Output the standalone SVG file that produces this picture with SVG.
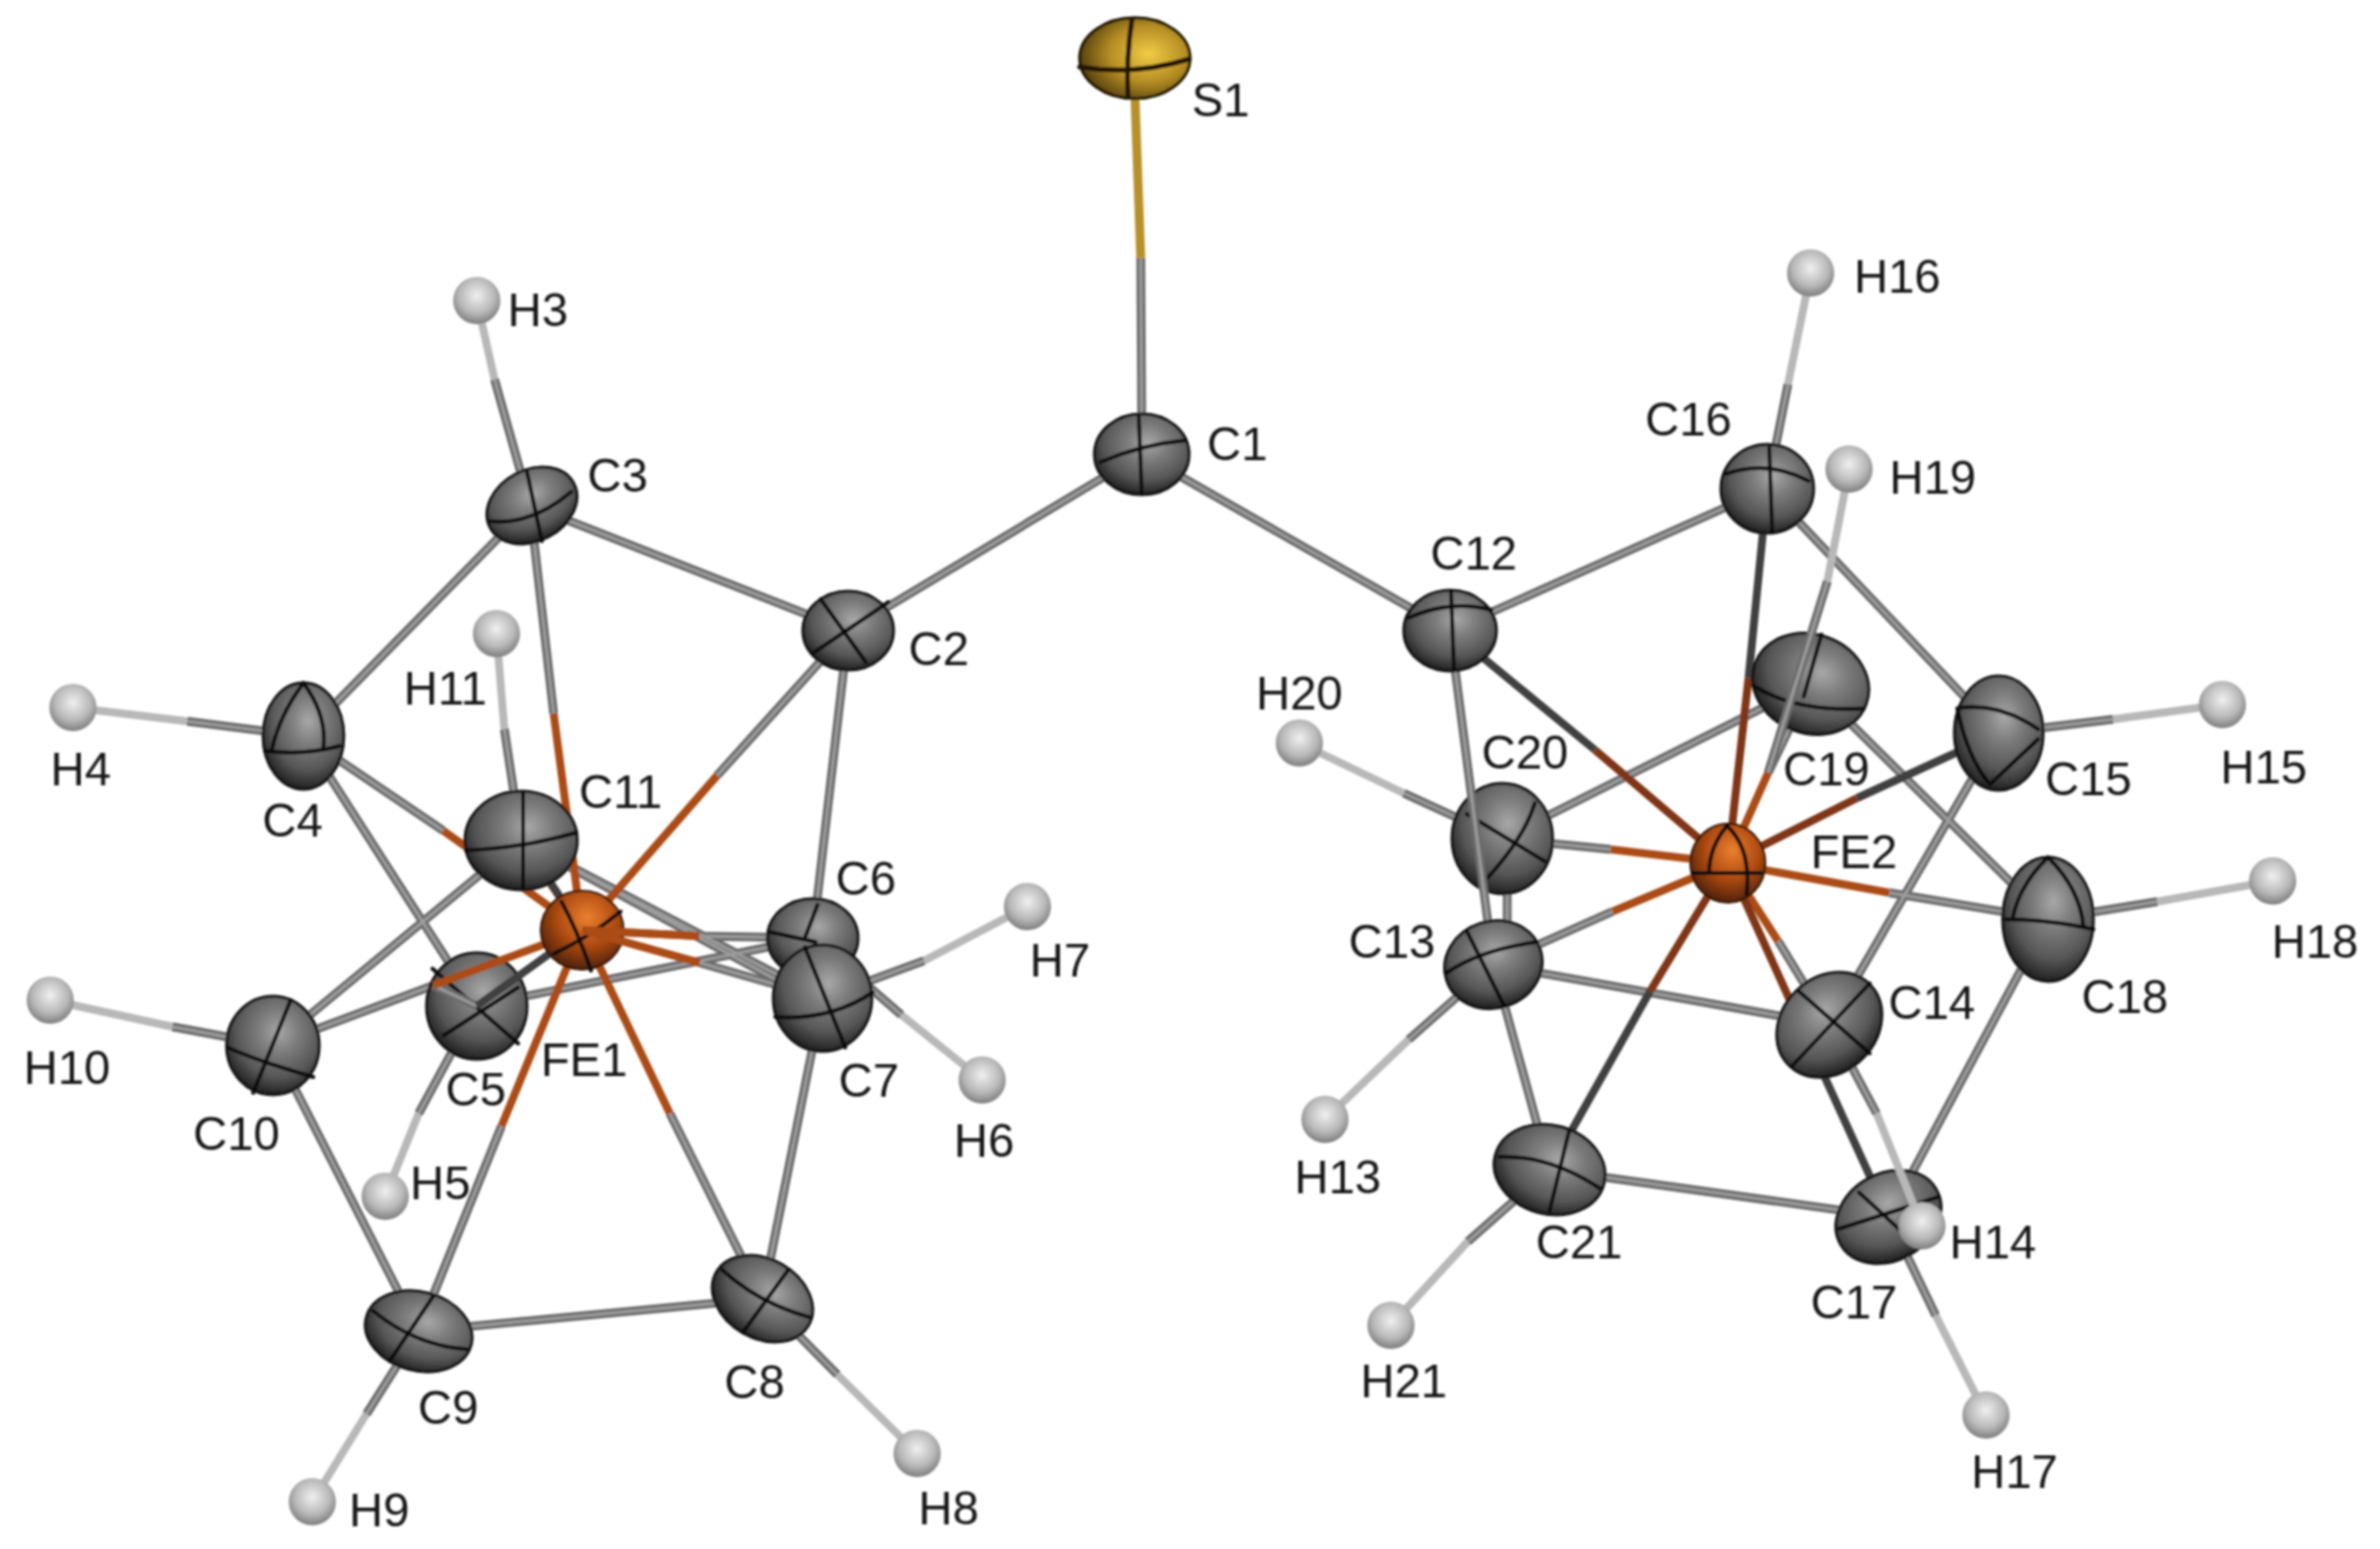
<svg xmlns="http://www.w3.org/2000/svg" width="2416" height="1572" viewBox="0 0 2416 1572">
<style>
text{font-family:"Liberation Sans",Arial,sans-serif;font-size:48px;fill:#141414;text-anchor:middle}
path{fill:none}
.g{stroke:#6c6c6c;stroke-width:9}
.hl{stroke:#9c9c9c;stroke-width:3}
.o{stroke:#ab4b17;stroke-width:8}
.dk{stroke:#404040;stroke-width:8}
.do{stroke:#7f3616;stroke-width:8}
.l{stroke:#b8b8b8;stroke-width:8}
.au{stroke:#b8902a;stroke-width:9}
.c{fill:url(#gc);stroke:#141414;stroke-width:3}
.h{fill:url(#gh)}
.fe{fill:url(#gfe);stroke:#2a1204;stroke-width:2}
.s{fill:url(#gs);stroke:#1e1604;stroke-width:3}
.x{stroke:#0e0e0e;stroke-width:4;stroke-linecap:round}
.xs{stroke:#241804;stroke-width:5;stroke-linecap:round}
</style>
<defs>
<radialGradient id="gc" cx=".56" cy=".36" r=".66"><stop offset="0" stop-color="#a8a8a8"/><stop offset=".33" stop-color="#7c7c7c"/><stop offset=".7" stop-color="#565656"/><stop offset="1" stop-color="#1c1c1c"/></radialGradient>
<radialGradient id="gh" cx=".5" cy=".4" r=".62"><stop offset="0" stop-color="#f0f0f0"/><stop offset=".6" stop-color="#b8b8b8"/><stop offset="1" stop-color="#787878"/></radialGradient>
<radialGradient id="gfe" cx=".56" cy=".34" r=".7"><stop offset="0" stop-color="#ea8030"/><stop offset=".5" stop-color="#b04c12"/><stop offset="1" stop-color="#451c06"/></radialGradient>
<radialGradient id="gs" cx=".62" cy=".45" r=".7"><stop offset="0" stop-color="#f2cc46"/><stop offset=".5" stop-color="#b48c24"/><stop offset="1" stop-color="#3c2c06"/></radialGradient>
<filter id="soft" filterUnits="userSpaceOnUse" x="0" y="0" width="2416" height="1572"><feGaussianBlur stdDeviation="0.9"/></filter>
</defs>
<rect width="2416" height="1572" fill="#fff"/>
<g filter="url(#soft)">
<g id="connectors-back">
<path class="au" d="M1152,95 L1158,262"/>
<path class="l" d="M484,305 L502,385 M74,718 L190,732 M51,1015 L175,1042 M1043,920 L938,975 M997,1096 L915,1030 M391,1214 L425,1130 M931,1475 L850,1395 M317,1524 L372,1435 M504,643 L512,740 M1838,277 L1815,390 M2256,715 L2145,730 M2307,894 L2190,915 M1319,754 L1425,805 M1345,1136 L1430,1055 M1412,1345 L1490,1260 M2016,1436 L1965,1335"/>
<g class="g">
<path id="gb" d="M1158,262 L1159,430 M861,640 L1159,461 M1159,461 L1472,640 M861,640 L538,513 M538,513 L308,747 M861,640 L825,952 M502,385 L538,513 M190,732 L308,747 M175,1042 L277,1061 M938,975 L835,1013 M915,1030 L825,952 M425,1130 L484,1021 M850,1395 L774,1318 M372,1435 L425,1351 M512,740 L529,853 M308,747 L484,1021 M277,1061 L529,853 M277,1061 L425,1351 M425,1351 L774,1318 M774,1318 L835,1013 M484,1021 L825,952 M529,853 L835,1020 M529,853 L825,1008 M861,640 L728,787 M538,513 L562,724 M308,747 L450,843 M425,1351 L509,1143 M774,1318 L680,1130 M825,952 L710,950 M835,1013 L710,977 M277,1061 L440,1000 M1472,640 L1794,496 M1794,496 L2029,744 M1838,694 L2079,933 M2079,933 L1917,1235 M2029,744 L1857,1040 M1516,979 L1857,1040 M1516,979 L1573,1187 M1573,1187 L1917,1235 M1838,694 L1525,851 M1815,390 L1794,496 M2145,730 L2029,744 M2190,915 L2079,933 M1425,805 L1525,851 M1430,1055 L1516,979 M1490,1260 L1573,1187 M1965,1335 L1917,1235 M2079,933 L1918,906 M1525,851 L1635,862 M1516,979 L1637,925 M1838,694 L1795,784 M1857,1040 L1805,955 M1530,851 L1530,979"/>
<use href="#gb" class="hl"/>
</g>
<path class="dk" d="M1472,640 L1619,761 M1794,496 L1775,688 M1573,1187 L1675,1006 M1835,1055 L1917,1235 M2029,744 L1885,810"/>
<path class="o" d="M728,787 L591,944 M562,724 L591,944 M450,843 L591,944 M509,1143 L591,944 M680,1130 L591,944 M710,950 L591,944 M710,977 L591,944 M529,853 L591,944 M1918,906 L1754,876 M1635,862 L1754,876 M1637,925 L1754,876 M1795,784 L1754,876 M1805,955 L1754,876"/>
<path class="do" d="M1619,761 L1754,876 M1775,688 L1754,876 M1675,1006 L1754,876 M1835,1055 L1754,876 M1885,810 L1754,876"/>
</g>
<g id="nodes-back">
<g id="C6"><g transform="translate(825,952)"><ellipse class="c" rx="46" ry="40"/><path class="x" d="M-43,-6 L3,4 M5,-34 L-8,0"/></g><text x="879" y="908">C6</text></g>
<g id="C5"><g transform="translate(484,1021)"><ellipse class="c" rx="51" ry="54"/><path class="x" d="M-45,-38 L42,38 M42,-19 L-34,30"/></g><text x="483" y="1122">C5</text></g>
<g id="C17"><g transform="translate(1917,1235)"><ellipse class="c" rx="56" ry="44" transform="rotate(-30)"/><path class="x" d="M-30,-25 L30,30 M-50,12 Q0,-4 50,-20"/></g><text x="1882" y="1338">C17</text></g>
<g id="C19"><g transform="translate(1838,694) rotate(20)"><ellipse class="c" rx="60" ry="50"/></g><path class="x" d="M1849,644 L1831,707 M1780,696 Q1824,723 1892,719"/><text x="1854" y="797">C19</text></g>
<g id="C20"><g transform="translate(1525,851)"><ellipse class="c" rx="51" ry="56"/><path class="x" d="M-36,-25 L43,23 M33,-36 Q23,-2 -15,40"/></g><text x="1548" y="780">C20</text></g>
<g id="H3"><circle class="h" cx="484" cy="305" r="24"/><text x="546" y="331">H3</text></g>
<g id="H4"><circle class="h" cx="74" cy="718" r="24"/><text x="82" y="797">H4</text></g>
<g id="H10"><circle class="h" cx="51" cy="1015" r="24"/><text x="68" y="1100">H10</text></g>
<g id="H11"><circle class="h" cx="504" cy="643" r="24"/><text x="452" y="715">H11</text></g>
<g id="H5"><circle class="h" cx="391" cy="1214" r="24"/><text x="447" y="1217">H5</text></g>
<g id="H6"><circle class="h" cx="997" cy="1096" r="24"/><text x="999" y="1174">H6</text></g>
<g id="H7"><circle class="h" cx="1043" cy="920" r="24"/><text x="1076" y="991">H7</text></g>
<g id="H8"><circle class="h" cx="931" cy="1475" r="24"/><text x="963" y="1547">H8</text></g>
<g id="H9"><circle class="h" cx="317" cy="1524" r="24"/><text x="385" y="1549">H9</text></g>
<g id="H13"><circle class="h" cx="1345" cy="1136" r="24"/><text x="1358" y="1211">H13</text></g>
<g id="H15"><circle class="h" cx="2256" cy="715" r="24"/><text x="2298" y="795">H15</text></g>
<g id="H16"><circle class="h" cx="1838" cy="277" r="24"/><text x="1926" y="297">H16</text></g>
<g id="H17"><circle class="h" cx="2016" cy="1436" r="24"/><text x="2045" y="1510">H17</text></g>
<g id="H18"><circle class="h" cx="2307" cy="894" r="24"/><text x="2350" y="972">H18</text></g>
<g id="H20"><circle class="h" cx="1319" cy="754" r="24"/><text x="1319" y="720">H20</text></g>
<g id="H21"><circle class="h" cx="1412" cy="1345" r="24"/><text x="1425" y="1418">H21</text></g>
</g>
<g id="connectors-front">
<path class="l" d="M1877,476 L1855,590 M1951,1244 L1905,1130"/>
<g class="g"><path id="gf" d="M1855,590 L1795,784 M1905,1130 L1857,1040 M1472,640 L1516,979 M484,1021 L440,1000"/><use href="#gf" class="hl"/></g>
<path class="dk" d="M484,1021 L591,944 M555,890 L591,944"/>
<path class="o" d="M440,1000 L591,944"/>
</g>
<g id="nodes-front">
<g id="FE1"><ellipse class="fe" cx="591" cy="944" rx="42" ry="40"/><path class="x" d="M570,915 Q586,944 600,985 M630,925 Q600,950 562,968"/><text x="593" y="1092">FE1</text></g>
<g id="C11"><g transform="translate(529,853)"><ellipse class="c" rx="57" ry="50"/><path class="x" d="M-56,10 Q0,8 56,-8 M2,-48 L2,48"/></g><text x="630" y="820">C11</text></g>
<path class="o" d="M591,944 L710,950 M591,944 L710,977"/>
<g id="C7"><g transform="translate(835,1013)"><ellipse class="c" rx="50" ry="54"/><path class="x" d="M-18,-52 L23,50 M-48,19 Q8,23 51,-6"/></g><text x="882" y="1113">C7</text></g>
<g id="C10"><g transform="translate(277,1061)"><ellipse class="c" rx="47" ry="50"/><path class="x" d="M18,-46 L-20,48 M-46,2 Q-12,17 41,32"/></g><text x="240" y="1167">C10</text></g>
<g id="C4"><g transform="translate(308,747)"><ellipse class="c" rx="41" ry="54"/><path class="x" d="M0,-54 Q-25,-20 -32,14 M0,-54 Q25,-20 20,14 M-39,15 Q0,20 37,10"/></g><text x="297" y="849">C4</text></g>
<g id="C3"><g transform="translate(540,513)"><ellipse class="c" rx="48" ry="36" transform="rotate(-28)"/><path class="x" d="M-42,16 Q0,20 40,-14 M-5,-34 L10,36"/></g><text x="627" y="499">C3</text></g>
<g id="C2"><g transform="translate(861,640)"><ellipse class="c" rx="46" ry="40"/><path class="x" d="M-28,-32 L18,32 M41,-29 L-36,23"/></g><text x="953" y="675">C2</text></g>
<g id="C1"><g transform="translate(1159,461)"><ellipse class="c" rx="48" ry="41"/><path class="x" d="M-42,8 Q0,-10 44,-14 M-3,-38 L0,40"/></g><text x="1256" y="467">C1</text></g>
<g id="C8"><g transform="translate(774,1318) rotate(30)"><ellipse class="c" rx="54" ry="40"/><path class="x" d="M-50,-5 Q0,6 52,-8 M8,-38 L0,39"/></g><text x="766" y="1419">C8</text></g>
<g id="C9"><g transform="translate(425,1351) rotate(15)"><ellipse class="c" rx="55" ry="40"/><path class="x" d="M-50,-8 Q0,15 52,5 M5,-38 L-20,35"/></g><text x="455" y="1445">C9</text></g>
<g id="S1"><g transform="translate(1152,59)"><ellipse class="s" rx="56" ry="41"/><path class="xs" d="M-56,9 Q0,18 55,1 M-3,-39 Q-9,0 -7,39"/></g><text x="1239" y="118">S1</text></g>
<g id="FE2"><ellipse class="fe" cx="1754" cy="876" rx="38" ry="40"/><path class="x" d="M1719,886 L1788,886 M1753,838 Q1778,861 1773,907 M1753,838 Q1735,860 1735,886"/><text x="1882" y="881">FE2</text></g>
<g id="C12"><g transform="translate(1472,640)"><ellipse class="c" rx="47" ry="41"/><path class="x" d="M1,-40 L4,40 M-42,-13 Q0,-32 42,-21"/></g><text x="1496" y="578">C12</text></g>
<g id="C16"><g transform="translate(1794,496)"><ellipse class="c" rx="47" ry="45"/><path class="x" d="M-42,-15 Q0,-30 42,-8 M2,-42 L5,44"/></g><text x="1714" y="442">C16</text></g>
<g id="C15"><g transform="translate(2029,744)"><ellipse class="c" rx="45" ry="58"/><path class="x" d="M-42,-25 Q-1,-32 40,-4 M-42,-25 Q-32,25 -9,52 M40,6 L-9,52"/></g><text x="2120" y="807">C15</text></g>
<g id="C18"><g transform="translate(2079,933)"><ellipse class="c" rx="46" ry="63"/><path class="x" d="M0,-63 Q-30,-34 -36,0 M-43,0 Q0,0 46,10 M0,-63 Q33,-30 36,8"/></g><text x="2157" y="1028">C18</text></g>
<g id="C13"><g transform="translate(1516,979)"><ellipse class="c" rx="50" ry="44" transform="rotate(-18)"/><path class="x" d="M-27,-34 L11,42 M-47,8 Q-14,-15 44,-23"/></g><text x="1413" y="972">C13</text></g>
<g id="C14"><g transform="translate(1857,1040)"><ellipse class="c" rx="58" ry="48" transform="rotate(-45)"/><path class="x" d="M-31,-34 L41,29 M41,-42 L-38,42"/></g><text x="1961" y="1034">C14</text></g>
<g id="C21"><g transform="translate(1573,1187)"><ellipse class="c" rx="57" ry="45" transform="rotate(15)"/><path class="x" d="M-51,-13 Q0,-15 51,19 M20,-40 L0,42"/></g><text x="1603" y="1277">C21</text></g>
<g id="H19"><circle class="h" cx="1877" cy="476" r="24"/><text x="1962" y="501">H19</text></g>
<g id="H14"><circle class="h" cx="1951" cy="1244" r="24"/><text x="2023" y="1277">H14</text></g>
</g>
</g>
</svg>
